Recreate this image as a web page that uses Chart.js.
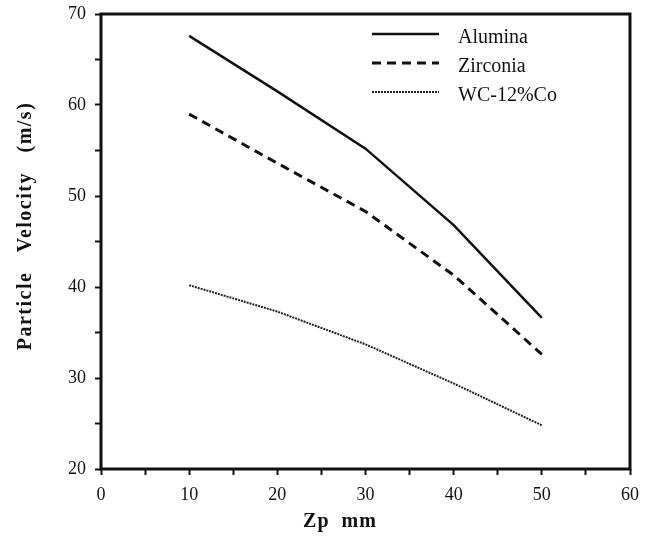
<!DOCTYPE html>
<html>
<head>
<meta charset="utf-8">
<script src="https://cdn.jsdelivr.net/npm/chart.js@4"></script>
<style>
  html, body { margin: 0; padding: 0; background: #fff; }
  #wrap { width: 647px; height: 538px; }
</style>
</head>
<body>
<div id="wrap"><canvas id="velocity-chart" width="647" height="538"></canvas></div>
<script>
const zpValues = [10, 20, 30, 40, 50];
const alumina = [67.6, 61.5, 55.2, 46.8, 36.6];
const zirconia = [59.0, 53.6, 48.3, 41.3, 32.6];
const wcCo = [40.2, 37.3, 33.7, 29.4, 24.8];
const seriesNames = ['Alumina', 'Zirconia', 'WC-12%Co'];
const xTicks = [0, 10, 20, 30, 40, 50, 60];
const yTicks = [20, 30, 40, 50, 60, 70];

const ink = '#111';
const serif = '"Liberation Serif", "DejaVu Serif", serif';

const toPoints = vals => vals.map((v, i) => ({ x: zpValues[i], y: v }));

// frame, legend and axis titles
const decor = {
  id: 'decor',
  afterDatasetsDraw(chart) {
    const { ctx, chartArea: a } = chart;
    ctx.save();
    ctx.strokeStyle = ink;
    ctx.lineWidth = 3;
    ctx.strokeRect(a.left, a.top, a.right - a.left, a.bottom - a.top);

    // legend
    const rows = [34, 63, 92];
    chart.data.datasets.forEach((ds, i) => {
      ctx.save();
      ctx.strokeStyle = ds.borderColor;
      ctx.lineWidth = ds.borderWidth;
      ctx.setLineDash(ds.borderDash || []);
      ctx.beginPath();
      ctx.moveTo(372, rows[i]);
      ctx.lineTo(439, rows[i]);
      ctx.stroke();
      ctx.restore();
      ctx.fillStyle = ink;
      ctx.font = '20px ' + serif;
      ctx.textBaseline = 'middle';
      ctx.textAlign = 'left';
      ctx.fillText(ds.label, 458, rows[i] + 4);
    });

    // axis titles
    ctx.fillStyle = ink;
    ctx.font = 'bold 20px ' + serif;
    ctx.textAlign = 'center';
    ctx.textBaseline = 'middle';
    ctx.letterSpacing = '1px';
    ctx.fillText('Zp  mm', 340, 522);
    ctx.letterSpacing = '1.5px';
    ctx.translate(26, 226);
    ctx.rotate(-Math.PI / 2);
    ctx.fillText('Particle   Velocity   (m/s)', 0, 0);
    ctx.restore();
  }
};

new Chart(document.getElementById('velocity-chart'), {
  type: 'line',
  data: {
    datasets: [{
      label: seriesNames[0],
      data: toPoints(alumina),
      borderColor: ink,
      borderWidth: 2.5
    }, {
      label: seriesNames[1],
      data: toPoints(zirconia),
      borderColor: ink,
      borderWidth: 3,
      borderDash: [9, 6]
    }, {
      label: seriesNames[2],
      data: toPoints(wcCo),
      borderColor: '#222',
      borderWidth: 2,
      borderDash: [2, 1]
    }]
  },
  plugins: [decor],
  options: {
    responsive: false,
    animation: false,
    layout: { padding: { top: 14, right: 17, left: 0, bottom: 0 } },
    elements: { point: { radius: 0 }, line: { tension: 0 } },
    plugins: { legend: { display: false }, tooltip: { enabled: false } },
    scales: {
      x: {
        type: 'linear',
        min: xTicks[0],
        max: xTicks[xTicks.length - 1],
        afterFit: s => { s.height = 69; s.paddingLeft = 0; s.paddingRight = 0; },
        border: { display: false },
        grid: { drawOnChartArea: false, tickLength: 6, tickWidth: 2, color: ink },
        ticks: {
          stepSize: 5,
          color: ink,
          padding: 9,
          font: { family: serif, size: 18 },
          callback: v => xTicks.includes(v) ? String(v) : ''
        }
      },
      y: {
        min: yTicks[0],
        max: yTicks[yTicks.length - 1],
        afterFit: s => { s.width = 101; s.paddingTop = 0; s.paddingBottom = 0; },
        border: { display: false },
        grid: { drawOnChartArea: false, tickLength: 6, tickWidth: 2, color: ink },
        ticks: {
          stepSize: 5,
          color: ink,
          padding: 9,
          font: { family: serif, size: 18 },
          callback: v => yTicks.includes(v) ? String(v) : ''
        }
      }
    }
  }
});
</script>
</body>
</html>
